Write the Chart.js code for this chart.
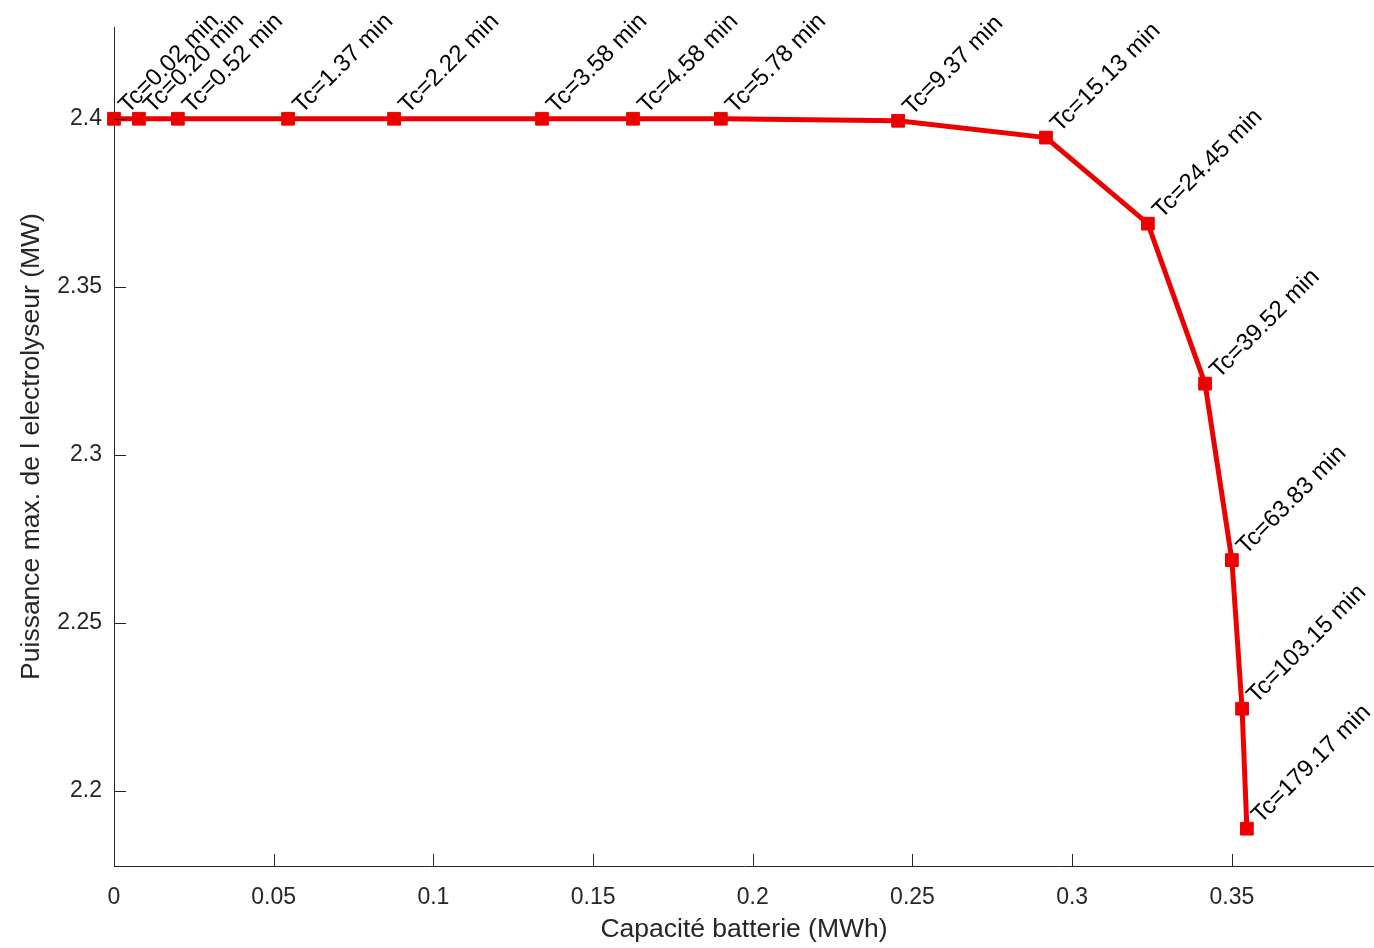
<!DOCTYPE html>
<html>
<head>
<meta charset="utf-8">
<script src="https://cdn.jsdelivr.net/npm/chart.js@4.4.0/dist/chart.umd.min.js"></script>
<style>
  body { margin: 0; background: #fff; }
  #wrap { width: 1374px; height: 948px; }
</style>
</head>
<body>
<div id="wrap"><canvas id="tcchart"></canvas></div>
<script>
// battery capacity (MWh) vs max electrolyser power (MW)
const capacity = [0, 0.0078, 0.0200, 0.0545, 0.0877, 0.1340, 0.1625, 0.1900, 0.2455, 0.2918, 0.3237, 0.3416, 0.3500, 0.3532, 0.3547];
const power = [2.4, 2.4, 2.4, 2.4, 2.4, 2.4, 2.4, 2.4, 2.3994, 2.3944, 2.3688, 2.3212, 2.2687, 2.2245, 2.1888];
const tcLabels = ['Tc=0.02 min', 'Tc=0.20 min', 'Tc=0.52 min', 'Tc=1.37 min', 'Tc=2.22 min', 'Tc=3.58 min', 'Tc=4.58 min',
  'Tc=5.78 min', 'Tc=9.37 min', 'Tc=15.13 min', 'Tc=24.45 min', 'Tc=39.52 min', 'Tc=63.83 min', 'Tc=103.15 min', 'Tc=179.17 min'];
const xTicks = [0, 0.05, 0.1, 0.15, 0.2, 0.25, 0.3, 0.35];
const xTickLabels = ['0', '0.05', '0.1', '0.15', '0.2', '0.25', '0.3', '0.35'];
const yTicks = [2.2, 2.25, 2.3, 2.35, 2.4];
const yTickLabels = ['2.2', '2.25', '2.3', '2.35', '2.4'];

const fontFam = '"Liberation Sans", Arial, sans-serif';
const axisCol = '#262626';

// matlab style ticks pointing inside the axes
const innerTicks = {
  id: 'innerTicks',
  afterDraw(chart) {
    const c = chart.ctx, a = chart.chartArea;
    const xs = chart.scales.x, ys = chart.scales.y;
    c.save();
    c.strokeStyle = axisCol;
    c.lineWidth = 1;
    c.beginPath();
    xTicks.forEach(v => {
      const px = Math.round(xs.getPixelForValue(v)) + 0.5;
      c.moveTo(px, a.bottom);
      c.lineTo(px, a.bottom - 12);
    });
    yTicks.forEach(v => {
      const py = Math.round(ys.getPixelForValue(v)) + 0.5;
      c.moveTo(a.left, py);
      c.lineTo(a.left + 12, py);
    });
    c.stroke();
    c.restore();
  }
};

// rotated Tc labels next to each marker
const tcText = {
  id: 'tcText',
  afterDatasetsDraw(chart) {
    const c = chart.ctx;
    const pts = chart.getDatasetMeta(0).data;
    c.save();
    c.font = '24px ' + fontFam;
    c.fillStyle = '#000';
    c.textAlign = 'left';
    c.textBaseline = 'middle';
    pts.forEach((p, i) => {
      c.save();
      c.translate(p.x, p.y);
      c.rotate(-Math.PI / 4);
      c.fillText(tcLabels[i], 13, 0);
      c.restore();
    });
    c.restore();
  }
};

const ctx = document.getElementById('tcchart').getContext('2d');
let tcchart = new Chart(ctx, {
  type: 'line',
  data: {
    datasets: [{
      data: capacity.map((v, i) => ({ x: v, y: power[i] })),
      borderColor: '#ec0000',
      backgroundColor: '#ec0000',
      borderWidth: 5,
      pointStyle: 'rect',
      pointRadius: 9,
      pointBorderWidth: 1,
      pointBackgroundColor: '#ec0000',
      pointBorderColor: '#ec0000',
      tension: 0,
      clip: false
    }]
  },
  options: {
    responsive: true,
    maintainAspectRatio: false,
    animation: false,
    layout: { autoPadding: false, padding: { top: 27, right: 0, left: 0, bottom: 0 } },
    plugins: {
      legend: { display: false },
      tooltip: { enabled: false }
    },
    scales: {
      x: {
        type: 'linear',
        min: 0,
        max: 0.3945,
        afterBuildTicks: s => { s.ticks = xTicks.map(v => ({ value: v })); },
        afterFit: s => { s.height = 82; },
        ticks: {
          callback: (v) => xTickLabels[xTicks.indexOf(v)],
          font: { family: fontFam, size: 23 },
          color: axisCol,
          padding: 18,
          maxRotation: 0,
          autoSkip: false
        },
        grid: { drawOnChartArea: false, drawTicks: false },
        border: { display: true, color: axisCol, width: 1 },
        title: {
          display: true,
          text: 'Capacité batterie (MWh)',
          font: { family: fontFam, size: 26.5 },
          color: axisCol,
          padding: { top: 4, bottom: 2 }
        }
      },
      y: {
        type: 'linear',
        min: 2.1777,
        max: 2.4273,
        afterBuildTicks: s => { s.ticks = yTicks.map(v => ({ value: v })); },
        afterFit: s => { s.width = 114; },
        ticks: {
          callback: (v) => yTickLabels[yTicks.indexOf(v)],
          font: { family: fontFam, size: 23 },
          color: axisCol,
          padding: 12,
          autoSkip: false
        },
        grid: { drawOnChartArea: false, drawTicks: false },
        border: { display: true, color: axisCol, width: 1 },
        title: {
          display: true,
          text: 'Puissance max. de l electrolyseur (MW)',
          font: { family: fontFam, size: 26.5 },
          color: axisCol,
          padding: { top: 16, bottom: 0 }
        }
      }
    }
  },
  plugins: [innerTicks, tcText]
});
</script>
</body>
</html>
